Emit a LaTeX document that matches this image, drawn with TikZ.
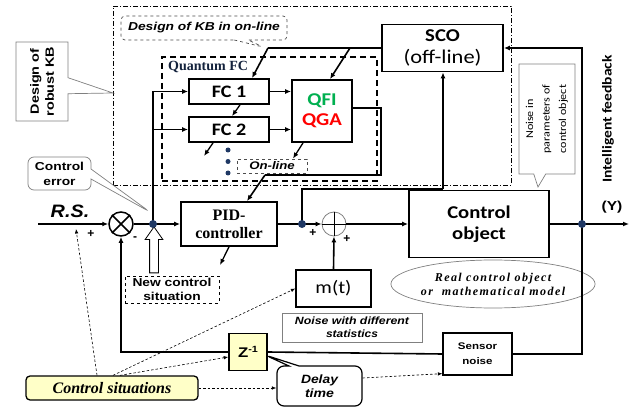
\documentclass[tikz,border=0pt]{standalone}
\usepackage{fontspec}
\usepackage{graphicx}
\setmainfont{Liberation Serif}
\newfontfamily\arialf{Liberation Sans}
\newfontfamily\calf{Carlito}
\newfontfamily\timeswide[LetterSpace=12]{Liberation Serif}
\usetikzlibrary{arrows.meta,shapes.callouts,shapes.arrows,shapes.geometric,calc}
\definecolor{navy}{RGB}{31,56,100}
\definecolor{paleyellow}{RGB}{255,255,200}
\definecolor{qgreen}{RGB}{0,176,80}
\definecolor{qred}{RGB}{255,0,0}
\definecolor{edgegray}{RGB}{128,128,128}
\newcommand\fs[2]{\fontsize{#1}{#2}\selectfont}
% horizontally widened lettering
\newcommand\wa[1]{\scalebox{1.2}[1]{#1}}
\newcommand\wc[1]{\scalebox{1.15}[1]{#1}}
% lettering stretched to a given width, natural height kept
\newcommand\tow[2]{\resizebox{#1}{\height}{#2}}

\tikzset{
  blk/.style={draw, line width=1.8pt, fill=white, inner sep=0pt, align=center},
  wire/.style={line width=1.6pt},
  arr/.style={wire, -{Latex[length=6pt,width=5pt]}},
  thinarr/.style={line width=1.3pt, -{Latex[length=6pt,width=5pt]}},
  hint/.style={dash pattern=on 2.5pt off 2pt, line width=0.6pt, -{Latex[length=4.5pt,width=3.5pt]}},
  junction/.style={circle, fill=navy, inner sep=0pt, minimum size=8pt},
  bullet/.style={circle, fill=navy, inner sep=0pt, minimum size=5pt},
  note/.style={draw=edgegray, line width=0.7pt, fill=white, inner sep=0pt, align=center},
  sign/.style={font=\arialf\bfseries\fs{12}{12}, inner sep=0pt},
}

\begin{document}
\begin{tikzpicture}[x=1pt,y=-1pt]
\useasboundingbox (0,0) rectangle (632,409);

% ---------- frames ----------
\node[draw, dash pattern=on 5pt off 2pt on 1pt off 2pt, line width=0.7pt,
      minimum width=398pt, minimum height=179pt, inner sep=0] (robustkb) at (312,95.5) {};
\node[draw, dash pattern=on 6pt off 4pt, line width=1.2pt,
      minimum width=215pt, minimum height=124pt, inner sep=0] (qfc) at (269.5,119) {};
\node[anchor=west, inner sep=0, text=navy!60!black, font=\bfseries\fs{14}{15}] (qfctitle) at (168,67) {Quantum FC};

% ---------- anchor points for rotated captions ----------
\coordinate (robustc) at (42,81.5);
\coordinate (nparamc) at (547,119);
\coordinate (ifbc) at (608,119);

% ---------- callouts ----------
\node[rectangle callout, note, minimum width=52pt, minimum height=79pt,
      callout absolute pointer={(113,93)}, callout pointer width=16pt] (robust) at (robustc) {};
\node[rotate=90, align=center, font=\arialf\bfseries\fs{12}{15}] (robusttxt) at (robustc) {\wa{Design of}\\\wa{robust KB}};

\node[rectangle callout, draw=black!70, dashed, line width=0.7pt, fill=white, rounded corners=4pt,
      minimum width=166pt, minimum height=24pt, inner sep=0,
      callout absolute pointer={(263,47)}, callout pointer width=14pt,
      font=\arialf\bfseries\itshape\fs{11.5}{13}] (kbon) at (204,28) {\wa{Design of KB in on-line}};

\node[rectangle callout, note, rounded corners=6pt, minimum width=63pt, minimum height=33pt,
      callout absolute pointer={(150,212)}, callout pointer width=10pt,
      font=\arialf\bfseries\fs{11.5}{15}] (cerr) at (59.5,173.5) {\wa{Control}\\\wa{error}};

\node[rectangle callout, note, minimum width=56pt, minimum height=110pt,
      callout absolute pointer={(538,187)}, callout pointer width=12pt] (nparam) at (nparamc) {};
\node[rotate=90, align=center, font=\calf\fs{10.5}{16.5}] (nparamtxt) at (nparamc)
     {\wc{Noise in}\\\wc{parameters of}\\\wc{control object}};

\node[rectangle callout, draw, line width=1.2pt, fill=white, rounded corners=7pt, align=center,
      minimum width=85pt, minimum height=40pt, inner sep=0,
      callout absolute pointer={(265,355)}, callout pointer width=10pt,
      font=\arialf\bfseries\itshape\fs{12}{14}] (delay) at (319.5,386) {\tow{37pt}{Delay}\\\tow{29pt}{time}};

% ---------- blocks ----------
\node[blk, minimum width=80pt, minimum height=25pt, font=\calf\bfseries\fs{17.5}{20}] (fc1) at (229,91.5) {\wc{FC 1}};
\node[blk, minimum width=80pt, minimum height=25pt, font=\calf\bfseries\fs{17.5}{20}] (fc2) at (229,129.5) {\wc{FC 2}};
\node[blk, minimum width=60pt, minimum height=62pt, font=\calf\bfseries\fs{18}{20}] (qfi) at (322,111)
     {\wc{\textcolor{qgreen}{QFI}}\\\wc{\textcolor{qred}{QGA}}};
\node[blk, minimum width=121pt, minimum height=47pt, font=\calf\fs{18}{22}] (sco) at (442.5,48)
     {\wc{\textbf{SCO}}\\\wc{\fs{19.5}{22}(off-line)}};
\node[draw=black!70, dashed, line width=0.8pt, fill=white, minimum width=70pt, minimum height=14pt, inner sep=0,
      font=\arialf\bfseries\itshape\fs{11}{12}] (online) at (272,166) {\wa{On-line}};
\node[bullet] (d1) at (228,150) {};
\node[bullet] (d2) at (228,161.5) {};
\node[bullet] (d3) at (228,173) {};

\node[blk, minimum width=96pt, minimum height=44pt, font=\bfseries\fs{16}{18}] (pid) at (229,224) {PID-\\controller};
\node[circle, draw, line width=1.5pt, minimum size=24pt, inner sep=0, fill=white] (sum1) at (121,224) {};
\draw[line width=1.5pt] (sum1.north east) -- (sum1.south west) (sum1.north west) -- (sum1.south east);
\node[circle, draw=edgegray, line width=0.8pt, minimum size=24pt, inner sep=0, fill=white] (sum2) at (334,224) {};
\draw[line width=0.6pt] (sum2.north) -- (sum2.south) (sum2.west) -- (sum2.east);
\node[blk, minimum width=140pt, minimum height=67pt, font=\calf\bfseries\fs{18}{21}] (obj) at (479,224) {\wc{Control}\\\wc{object}};

\node[ellipse, draw=edgegray, line width=0.7pt, minimum width=161pt, minimum height=48pt, inner sep=0, align=center,
      font=\timeswide\bfseries\itshape\fs{12}{14}] (model) at (493,284) {Real control object\\or\ \ mathematical model};

\node[draw, line width=1.3pt, fill=white, minimum width=75pt, minimum height=37pt, inner sep=0,
      font=\calf\fs{18}{20}] (mt) at (333.5,288.5) {\wc{m(t)}};
\node[note, minimum width=140pt, minimum height=29pt, font=\arialf\bfseries\itshape\fs{10.5}{13}] (nstat) at (352,327.5)
     {\tow{114pt}{Noise with different}\\\tow{52pt}{statistics}};

\node[draw, dashed, line width=0.8pt, fill=white, minimum width=94pt, minimum height=27pt, inner sep=0, align=center,
      font=\arialf\bfseries\fs{11.5}{14}] (ncs) at (172,289.5) {\wa{New control}\\\wa{situation}};
\node[single arrow, draw, line width=0.8pt, fill=white, shape border rotate=90, minimum height=46pt,
      inner sep=4pt, single arrow head extend=4.5pt, single arrow tip angle=70] (newsit) at (154,253) {};

\node[draw, line width=1.3pt, fill=white, minimum width=69pt, minimum height=42pt, inner sep=0, align=center,
      font=\arialf\bfseries\fs{9.6}{15}] (sensor) at (477.5,354) {\wa{Sensor}\\\wa{noise}};
\node[draw, line width=1.6pt, fill=paleyellow, minimum width=38pt, minimum height=37pt, inner sep=0,
      font=\arialf\bfseries\fs{14}{14}] (zinv) at (248,352) {\wa{Z}\raisebox{5pt}{\fs{9}{9}\wa{-1}}};
\node[draw, line width=1.3pt, fill=paleyellow, rounded corners=4pt, minimum width=172pt, minimum height=24pt, inner sep=0,
      font=\bfseries\itshape\fs{16}{18}] (sit) at (112,388) {Control situations};

% ---------- labels ----------
\node[font=\arialf\bfseries\itshape\fs{18}{18}, inner sep=0] (rs) at (70,211) {\scalebox{1.1}[1]{R.S.}};
\node[font=\arialf\bfseries\fs{13}{13}, inner sep=0] (ylab) at (612,207) {\wa{(Y)}};
\node[rotate=90, font=\calf\bfseries\fs{13.5}{16}, inner sep=0] (ifb) at (ifbc) {\wc{Intelligent feedback}};
\node[sign] (p1) at (91,234) {+};
\node[sign] (m1) at (135,239) {-};
\node[sign] (p2) at (313,233) {+};
\node[sign] (p3) at (347,239) {+};

% ---------- connection points ----------
\coordinate (rsin) at (38,224);
\coordinate (j1) at (153,224);
\coordinate (j2) at (302,224);
\coordinate (j3) at (582,224);
\coordinate (yout) at (629,224);
\coordinate (scobend) at (268,48);
\coordinate (scotap) at (350,48);
\coordinate (qbend) at (381,175);
\coordinate (qturn) at (265,175);
\coordinate (fc2out) at (204,156);
\coordinate (pidout) at (220,265);
\coordinate (scoup) at (443,189);
\coordinate (rsmark) at (76,229);

% ---------- signal lines ----------
\draw[arr] (rsin) -- (sum1.west);
\draw[wire] (sum1.east) -- (j1);
\draw[arr] (j1) -- (pid.west);
\draw[wire] (j1) -- (j1 |- fc1.west);
\draw[arr] (j1 |- fc1.west) -- (fc1.west);
\draw[arr] (j1 |- fc2.west) -- (fc2.west);
\draw[arr] (fc1.east) -- (fc1.east -| qfi.west);
\draw[arr] (fc2.east) -- (fc2.east -| qfi.west);
\draw[thinarr] ([xshift=11pt]fc1.south) -- ([xshift=3pt]fc2.north);
\draw[thinarr] ([xshift=-16pt]fc2.south) -- (fc2out);
\draw[thinarr] ([xshift=-19pt]qfi.south) -- ([xshift=21pt]online.north);
\draw[wire] (sco.west) -- (scobend);
\draw[arr] (scobend) -- ([xshift=23pt]fc1.north);
\draw[arr] (scotap) -- ([xshift=8pt]qfi.north);
\draw[wire] ([yshift=3pt]qfi.east) -| (qbend) -- (qturn);
\draw[arr] (qturn) -- ([xshift=18pt]pid.north);
\draw[thinarr] (pid.south) -- (pidout);
\draw[wire] (pid.east) -- (j2);
\draw[arr] (j2) -- (sum2.west);
\draw[wire] (j2) |- (scoup);
\draw[arr] (scoup) -- (scoup |- sco.south);
\draw[arr] (sum2.east) -- (obj.west);
\draw[wire] (obj.east) -- (j3);
\draw[arr] (j3) -- (yout);
\draw[arr] (j3) |- (sco.east);
\draw[wire] (j3) |- (sensor.east);
\draw[wire] (sensor.west) -- (zinv.east);
\draw[arr] (zinv.west) -| (sum1.south);
\draw[arr] (mt.north) -- (sum2.south);

% ---------- context hints ----------
\draw[hint] ([xshift=-15pt]sit.north) -- (rsmark);
\draw[hint] ([xshift=1pt]sit.north) -- (mt.west);
\draw[hint] ([xshift=8pt]sit.north) -- ([yshift=-5pt]zinv.west);
\draw[hint] (sit.east) -- (sit.east -| delay.west);
\draw[hint] ([yshift=8pt]delay.east) -- ([yshift=2pt]sensor.south west);

% ---------- junction dots ----------
\node[junction] (dot1) at (j1) {};
\node[junction] (dot2) at (j2) {};
\node[junction] (dot3) at (j3) {};
\end{tikzpicture}
\end{document}
